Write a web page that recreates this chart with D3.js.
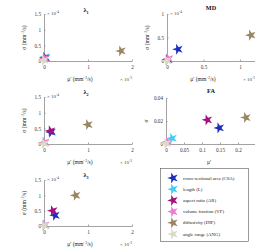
<!DOCTYPE html>
<html>
<head>
<meta charset="utf-8">
<script src="https://cdn.jsdelivr.net/npm/d3@7"></script>
<style>
  body { margin: 0; background: #fff; }
  svg { display: block; font-family: "Liberation Serif", "DejaVu Serif", serif; }
  .axis path, .axis line { stroke: #8c8c8c; stroke-width: 0.8; }
  .axis text { fill: #333; font-size: 5.2px; font-family: "Liberation Serif", serif; }
</style>
</head>
<body>
<div id="chart"></div>
<script>
// Series (marker order)
const seriesNames = ['cross-sectional area (CSA)', 'length (L)', 'aspect ratio (AR)',
  'volume fraction (VF)', 'diffusivity (DIF)', 'angle range (ANG)'];
const seriesColors = ['#1c2dbf', '#3fcff2', '#a3127f', '#f07ad6', '#9a8762', '#d8dbc5'];

// Values, order = seriesNames
const l1Mu    = [0.02, 0.02, 0.03, 0.02, 1.75, 0.0];
const l1Sigma = [0.10, 0.13, 0.10, 0.08, 0.32, 0.02];
const mdMu    = [0.15, 0.01, 0.01, 0.02, 1.15, 0.0];
const mdSigma = [0.25, 0.03, 0.03, 0.05, 0.55, 0.01];
const l2Mu    = [0.16, 0.01, 0.15, 0.02, 1.00, 0.0];
const l2Sigma = [0.38, 0.05, 0.42, 0.05, 0.62, 0.01];
const faMu    = [0.148, 0.017, 0.115, 0.005, 0.222, 0.001];
const faSigma = [0.014, 0.005, 0.021, 0.002, 0.023, 0.0005];
const l3Mu    = [0.25, 0.01, 0.20, 0.02, 0.72, 0.0];
const l3Sigma = [0.35, 0.03, 0.50, 0.03, 1.00, 0.01];

const lambdaXTicks = [0, 1, 2];
const lambdaYTicks = [0, 0.5, 1, 1.5];
const mdXTicks = [0, 0.5, 1];
const mdYTicks = [0, 0.5, 1];
const faXTicks = [0, 0.05, 0.1, 0.15, 0.2];
const faYTicks = [0, 0.02, 0.04];

const width = 255;
const height = 251;

const panels = [
  { title: 'λ', sub: '1', mu: l1Mu, sigma: l1Sigma, xDom: [0, 2], xRange: [44, 132], yDom: [0, 1.5], yRange: [61, 14],
    xTicks: lambdaXTicks, yTicks: lambdaYTicks, xExp: '-3', yExp: '-4', titleX: 86, titleY: 12, yLabel: 'long' },
  { title: 'MD', mu: mdMu, sigma: mdSigma, xDom: [0, 1.22], xRange: [167, 256], yDom: [0, 1], yRange: [61, 14],
    xTicks: mdXTicks, yTicks: mdYTicks, xExp: '-3', yExp: '-4', titleX: 211, titleY: 10, yLabel: 'long' },
  { title: 'λ', sub: '2', mu: l2Mu, sigma: l2Sigma, xDom: [0, 2], xRange: [44, 132], yDom: [0, 1.5], yRange: [144, 97],
    xTicks: lambdaXTicks, yTicks: lambdaYTicks, xExp: '-3', yExp: '-4', titleX: 86, titleY: 94, yLabel: 'long' },
  { title: 'FA', mu: faMu, sigma: faSigma, xDom: [0, 0.25], xRange: [166, 256], yDom: [0, 0.04], yRange: [144, 98],
    xTicks: faXTicks, yTicks: faYTicks, xExp: null, yExp: null, titleX: 211, titleY: 93, yLabel: 'short' },
  { title: 'λ', sub: '3', mu: l3Mu, sigma: l3Sigma, xDom: [0, 2], xRange: [44, 132], yDom: [0, 1.5], yRange: [226, 180],
    xTicks: lambdaXTicks, yTicks: lambdaYTicks, xExp: '-3', yExp: '-4', titleX: 86, titleY: 177, yLabel: 'long' },
];

const svg = d3.select('#chart')
  .append('svg')
  .attr('width', width)
  .attr('height', height);

const star = d3.symbol().type(d3.symbolStar).size(38);

function fmt(d) {
  return String(d);
}

panels.forEach((p) => {
  const x = d3.scaleLinear().domain(p.xDom).range(p.xRange);
  const y = d3.scaleLinear().domain(p.yDom).range(p.yRange);
  const y0 = p.yRange[0];
  const x0 = p.xRange[0];

  const g = svg.append('g');

  // axes
  g.append('g')
    .attr('class', 'axis')
    .attr('transform', `translate(0, ${y0})`)
    .call(d3.axisBottom(x).tickValues(p.xTicks).tickFormat(fmt).tickSizeInner(-1.5).tickSizeOuter(0).tickPadding(4));

  g.append('g')
    .attr('class', 'axis')
    .attr('transform', `translate(${x0}, 0)`)
    .call(d3.axisLeft(y).tickValues(p.yTicks).tickFormat(fmt).tickSizeInner(-1.5).tickSizeOuter(0).tickPadding(3));

  // title
  const t = g.append('text')
    .attr('x', p.titleX)
    .attr('y', p.titleY)
    .attr('text-anchor', 'middle')
    .attr('font-size', 6.2)
    .attr('font-weight', 'bold')
    .attr('fill', '#111')
    .text(p.title);
  if (p.sub) {
    t.append('tspan').attr('font-size', 4).attr('dy', 1.5).text(p.sub);
  }

  // exponents
  if (p.yExp) {
    const e = g.append('text')
      .attr('x', x0 + 3)
      .attr('y', p.yRange[1] + 1)
      .attr('font-size', 5)
      .attr('fill', '#444')
      .text('× 10');
    e.append('tspan').attr('font-size', 3.5).attr('dy', -2).text(p.yExp);
  }
  if (p.xExp) {
    const e = g.append('text')
      .attr('x', p.xRange[0] + 76)
      .attr('y', y0 + 20)
      .attr('font-size', 5)
      .attr('fill', '#444')
      .text('× 10');
    e.append('tspan').attr('font-size', 3.5).attr('dy', -2).text(p.xExp);
  }

  // x label
  const xl = g.append('text')
    .attr('x', p.yLabel === 'long' ? x0 + 36 : x0 + 43)
    .attr('y', y0 + 20)
    .attr('text-anchor', 'middle')
    .attr('font-size', 5.6)
    .attr('fill', '#222');
  if (p.yLabel === 'long') {
    xl.text('μ\' (mm');
    xl.append('tspan').attr('font-size', 3.5).attr('dy', -2).text('−2');
    xl.append('tspan').attr('dy', 2).text('/s)');
  } else {
    xl.text('μ\'');
  }

  // y label
  const yMid = (p.yRange[0] + p.yRange[1]) / 2;
  const yl = g.append('text')
    .attr('transform', `translate(${x0 - 18}, ${yMid}) rotate(-90)`)
    .attr('text-anchor', 'middle')
    .attr('font-size', 5.6)
    .attr('fill', '#222');
  if (p.yLabel === 'long') {
    yl.text('σ (mm');
    yl.append('tspan').attr('font-size', 3.5).attr('dy', -2).text('−2');
    yl.append('tspan').attr('dy', 2).text('/s)');
  } else {
    yl.text('σ');
  }

  // stars
  g.append('g')
    .selectAll('path')
    .data(p.mu.map((m, i) => ({ m, s: p.sigma[i], i })))
    .join('path')
    .attr('d', star)
    .attr('transform', (d) => `translate(${x(d.m)}, ${y(d.s)}) rotate(-18)`)
    .attr('fill', (d) => seriesColors[d.i]);
});

// legend
const legend = svg.append('g');
legend.append('rect')
  .attr('x', 160.5).attr('y', 168.5)
  .attr('width', 88).attr('height', 73)
  .attr('fill', '#fff')
  .attr('stroke', '#555')
  .attr('stroke-width', 0.6);

const rowY = d3.scalePoint().domain(seriesNames).range([178, 234]);

legend.selectAll('path')
  .data(seriesNames)
  .join('path')
  .attr('d', star)
  .attr('transform', (d) => `translate(173, ${rowY(d)}) rotate(-18)`)
  .attr('fill', (d, i) => seriesColors[i]);

legend.selectAll('text')
  .data(seriesNames)
  .join('text')
  .attr('x', 183)
  .attr('y', (d) => rowY(d) + 1.6)
  .attr('font-size', 4.8)
  .attr('fill', '#222')
  .text((d) => d);
</script>
</body>
</html>
